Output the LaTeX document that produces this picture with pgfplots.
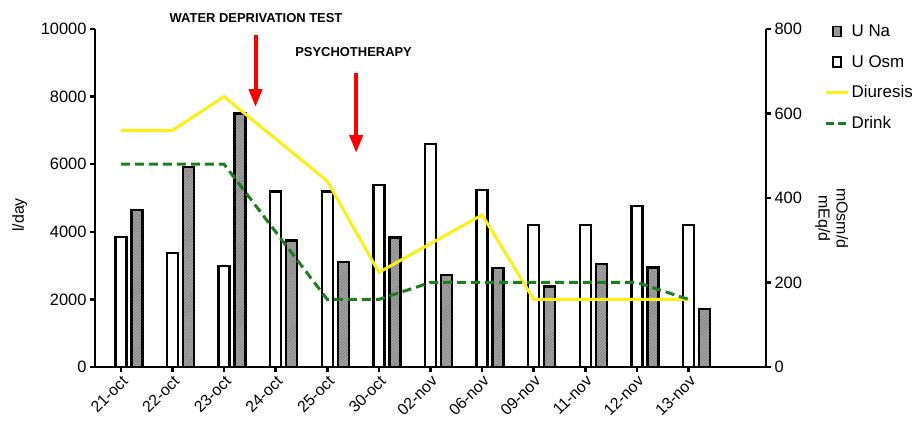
\documentclass[border=0pt]{standalone}
\usepackage{pgfplots}
\pgfplotsset{compat=1.18}
\usepackage{fontspec}
\setmainfont{Liberation Sans}
\usetikzlibrary{arrows.meta,patterns}
\definecolor{diur}{RGB}{250,240,20}
\definecolor{drink}{RGB}{30,125,30}
\definecolor{hatch}{RGB}{165,165,165}

\pgfplotsset{
  common/.style={
    scale only axis, width=671bp, height=338bp,
    xmin=-0.5, xmax=12.5, ymin=0,
    tick align=outside, major tick length=5bp,
    every tick/.style={line width=2.5bp, black},
    axis line style={line width=2.5bp},
    /pgf/number format/assume math mode=true,
    ticklabel style={font=\fontsize{16.5}{18}\selectfont},
    clip=false,
  },
  lineleg/.style={legend image code/.code={\draw[##1] (0bp,0bp) -- (22bp,0bp);}},
}

\begin{document}
\begin{tikzpicture}
% bars, right axis
\begin{axis}[common,
  ymax=800,
  axis x line=none, axis y line*=right,
  ytick={0,200,400,600,800},
  legend style={at={(axis description cs:1.087,1.018)}, anchor=north west,
    draw=none, fill=none, font=\fontsize{17}{19}\selectfont,
    row sep=13bp, inner sep=0pt},
  legend cell align=left,
]
\addplot[ybar, bar width=11bp, bar shift=16bp, draw=black, line width=2.5bp,
  fill=hatch, postaction={pattern=north east lines, pattern color=black!55},
  legend image code/.code={\draw[black, line width=1.5bp, fill=hatch] (7bp,-5bp) rectangle (15bp,5bp);}]
  coordinates {(0,372)(1,473)(2,600)(3,299)(4,249)(5,307)(6,218)(7,234)(8,190)(9,244)(10,236)(11,137)};
\addlegendentry{U Na}
\addplot[ybar, bar width=11bp, bar shift=0bp, draw=black, line width=2.5bp, fill=white,
  legend image code/.code={\draw[black, line width=1.5bp, fill=white] (7bp,-5bp) rectangle (15bp,5bp);}]
  coordinates {(0,308)(1,270)(2,239)(3,415)(4,415)(5,431)(6,528)(7,419)(8,336)(9,336)(10,381)(11,336)};
\addlegendentry{U Osm}
\addlegendimage{diur, line width=3bp, lineleg}
\addlegendentry{Diuresis}
\addlegendimage{drink, line width=3bp, dash pattern=on 8bp off 4bp, lineleg}
\addlegendentry{Drink}
\node[rotate=-90, align=center, font=\fontsize{16}{18}\selectfont] at (axis description cs:1.098,0.44) {mOsm/d\\mEq/d};
\end{axis}
% lines, left axis
\begin{axis}[common,
  ymax=10000,
  axis x line*=bottom, axis y line*=left,
  xtick={0,...,11},
  xticklabels={21-oct,22-oct,23-oct,24-oct,25-oct,30-oct,02-nov,06-nov,09-nov,11-nov,12-nov,13-nov},
  xticklabel style={rotate=45, anchor=north east, inner sep=1.5pt, font=\fontsize{16}{18}\selectfont},
  ytick={0,2000,4000,6000,8000,10000},
  scaled y ticks=false,
  yticklabel style={/pgf/number format/1000 sep={}},
]
\addplot[diur, line width=3bp] coordinates
  {(0,7000)(1,7000)(2,8000)(3,6750)(4,5500)(5,2800)(6,3650)(7,4500)(8,2000)(9,2000)(10,2000)(11,2000)};
\addplot[drink, line width=3bp, dash pattern=on 9bp off 5bp] coordinates
  {(0,6000)(1,6000)(2,6000)(3,4000)(4,2000)(5,2000)(6,2500)(7,2500)(8,2500)(9,2500)(10,2500)(11,2000)};
\draw[red, line width=4bp, -{Triangle[width=13bp,length=18bp]}] (axis cs:2.61,9822) -- (axis cs:2.61,7692);
\draw[red, line width=4bp, -{Triangle[width=13bp,length=18bp]}] (axis cs:4.56,8698) -- (axis cs:4.56,6331);
\node[font=\bfseries\fontsize{13}{14}\selectfont] at (axis cs:2.62,10325) {WATER DEPRIVATION TEST};
\node[font=\bfseries\fontsize{13}{14}\selectfont] at (axis cs:4.51,9320) {PSYCHOTHERAPY};
\node[rotate=90, font=\fontsize{16}{18}\selectfont] at (axis description cs:-0.112,0.45) {l/day};
\end{axis}
\pgfresetboundingbox
\path[use as bounding box] (-95bp,-58bp) rectangle (826bp,367bp);
\end{tikzpicture}
\end{document}
